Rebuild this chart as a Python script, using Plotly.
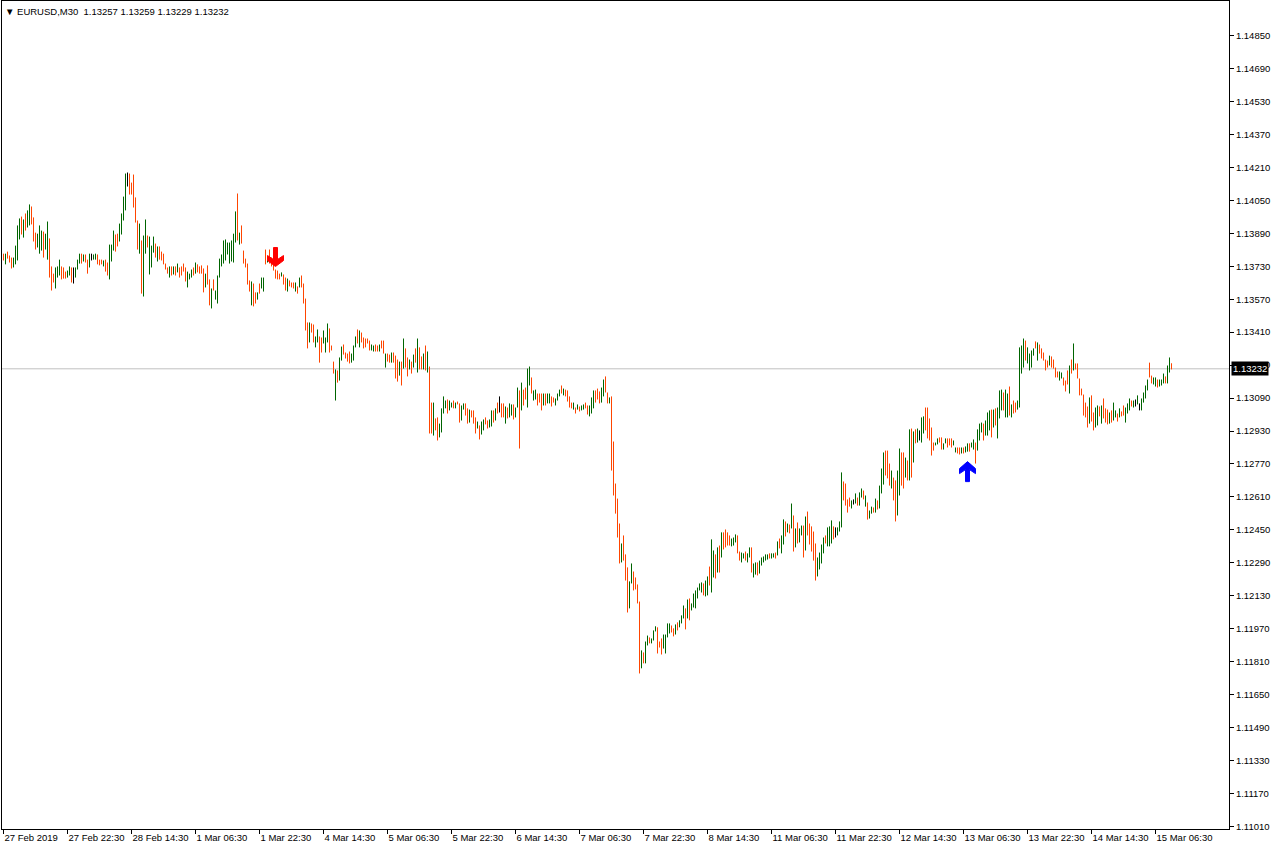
import plotly.graph_objects as go

# ---------------- data ----------------
symbol = "EURUSD"
timeframe = "M30"
last_ohlc = [1.13257, 1.13259, 1.13229, 1.13232]   # open, high, low, close of the last bar

# time-axis labels, one every 32 half-hour bars starting at bar 0
time_labels = ["27 Feb 2019", "27 Feb 22:30", "28 Feb 14:30", "1 Mar 06:30", "1 Mar 22:30",
               "4 Mar 14:30", "5 Mar 06:30", "5 Mar 22:30", "6 Mar 14:30", "7 Mar 06:30",
               "7 Mar 22:30", "8 Mar 14:30", "11 Mar 06:30", "11 Mar 22:30", "12 Mar 14:30",
               "13 Mar 06:30", "13 Mar 22:30", "14 Mar 14:30", "15 Mar 06:30"]
label_every = 32

price_ticks = [1.11010, 1.11170, 1.11330, 1.11490, 1.11650, 1.11810, 1.11970, 1.12130,
               1.12290, 1.12450, 1.12610, 1.12770, 1.12930, 1.13090, 1.13250, 1.13410,
               1.13570, 1.13730, 1.13890, 1.14050, 1.14210, 1.14370, 1.14530, 1.14690, 1.14850]

# bar highs / lows in points (1 point = 0.00001)
high_pts = [
    113791,113791,113801,113782,113772,113772,113830,113928,113962,113971,
    113957,113986,114001,114030,114020,113967,113893,113888,113928,113903,
    113898,113888,113947,113865,113729,113694,113724,113729,113762,113729,
    113724,113704,113709,113729,113724,113724,113724,113762,113791,113791,
    113787,113787,113762,113791,113791,113787,113791,113787,113762,113762,
    113758,113762,113748,113835,113835,113903,113884,113888,113937,113986,
    114068,114180,114185,114180,114136,114175,114064,113952,113937,113855,
    113879,113957,113879,113874,113830,113874,113840,113826,113826,113801,
    113791,113743,113724,113729,113729,113729,113729,113743,113724,113729,
    113743,113724,113704,113694,113714,113724,113748,113739,113729,113734,
    113719,113694,113734,113666,113622,113666,113612,113685,113767,113787,
    113855,113860,113845,113845,113855,113888,113996,114083,113893,113928,
    113806,113767,113743,113661,113656,113646,113603,113603,113646,113675,
    113675,113811,113772,113811,113772,113762,113714,113709,113694,113700,
    113690,113675,113670,113661,113651,113651,113651,113632,113675,113685,
    113646,113573,113457,113457,113452,113447,113389,113423,113389,113384,
    113418,113384,113452,113428,113345,113267,113229,113224,113287,113340,
    113350,113311,113306,113316,113306,113345,113389,113423,113418,113408,
    113384,113379,113379,113369,113350,113345,113350,113345,113350,113369,
    113369,113306,113306,113301,113311,113311,113296,113277,113267,113267,
    113379,113331,113287,113277,113267,113301,113331,113379,113336,113292,
    113306,113345,113316,113243,113068,113068,112991,112996,112966,113040,
    113098,113078,113083,113078,113068,113078,113068,113073,113064,113054,
    113064,113064,113040,113034,113030,113030,112996,112976,112957,112976,
    112986,112996,112981,112986,113030,113030,113040,113068,113098,113064,
    113064,113049,113044,113064,113059,113059,113044,113141,113127,113165,
    113131,113141,113233,113243,113190,113127,113131,113112,113112,113112,
    113112,113112,113112,113112,113098,113093,113088,113112,113131,113151,
    113136,113131,113127,113098,113068,113068,113044,113059,113049,113054,
    113059,113068,113054,113054,113093,113127,113127,113136,113122,113141,
    113180,113195,113117,113093,113098,112879,112675,112602,112481,112384,
    112423,112331,112268,112200,112287,112248,112219,112185,112102,111865,
    111855,111908,111937,111928,111923,111962,111982,111977,111908,111923,
    111942,111942,111996,111996,111986,111972,111991,112001,112011,112035,
    112083,112069,112112,112117,112093,112141,112156,112170,112190,112195,
    112190,112204,112224,112272,112404,112350,112331,112365,112374,112438,
    112438,112452,112438,112423,112408,112413,112428,112423,112345,112340,
    112336,112345,112336,112365,112365,112287,112292,112292,112301,112316,
    112321,112331,112331,112336,112336,112336,112340,112394,112408,112423,
    112501,112491,112481,112476,112578,112520,112457,112486,112457,112471,
    112471,112515,112539,112481,112467,112442,112384,112316,112340,112379,
    112413,112423,112462,112467,112496,112467,112462,112462,112491,112729,
    112685,112675,112598,112607,112593,112598,112627,112607,112632,112651,
    112641,112617,112583,112544,112563,112559,112602,112593,112665,112748,
    112826,112835,112835,112772,112738,112704,112690,112738,112845,112826,
    112826,112801,112787,112938,112942,112928,112938,112942,112933,112996,
    113001,113044,113044,112991,112947,112874,112874,112894,112899,112899,
    112870,112894,112894,112894,112894,112884,112850,112850,112850,112850,
    112850,112855,112870,112870,112874,112889,112874,112938,112966,112971,
    112966,112981,113020,113030,113034,113034,113040,113044,113127,113131,
    113117,113131,113112,113146,113059,113078,113068,113078,113336,113345,
    113379,113369,113336,113306,113321,113331,113365,113360,113350,113331,
    113311,113277,113272,113296,113292,113277,113238,113219,113219,113214,
    113190,113175,113224,113248,113277,113355,113258,113258,113185,113136,
    113107,113068,113049,113093,113103,113020,113044,113054,113049,113054,
    113088,113040,113034,113020,113030,113068,113030,113015,113040,113025,
    113054,113044,113064,113088,113078,113078,113083,113103,113064,113088,
    113117,113151,113180,113262,113199,113190,113190,113180,113180,113180,
    113209,113195,113248,113287,113259,
]
low_pts = [
    113758,113739,113767,113748,113719,113724,113739,113758,113860,113884,
    113869,113903,113918,113928,113933,113850,113811,113821,113791,113806,
    113772,113811,113762,113675,113612,113651,113622,113675,113685,113666,
    113670,113670,113675,113685,113651,113646,113675,113714,113743,113743,
    113753,113748,113694,113724,113758,113762,113762,113739,113734,113739,
    113729,113704,113685,113666,113753,113806,113801,113826,113850,113884,
    113952,114001,114117,114078,114078,114015,113942,113811,113791,113597,
    113583,113791,113821,113690,113724,113796,113772,113753,113762,113758,
    113739,113714,113694,113675,113685,113690,113685,113700,113675,113685,
    113704,113656,113627,113666,113675,113685,113694,113700,113694,113694,
    113603,113627,113641,113540,113525,113612,113568,113549,113675,113729,
    113743,113758,113787,113743,113753,113748,113845,113855,113835,113840,
    113743,113724,113641,113607,113540,113535,113549,113568,113597,113622,
    113607,113739,113748,113743,113729,113709,113670,113666,113666,113680,
    113641,113612,113607,113632,113627,113622,113607,113597,113627,113627,
    113549,113418,113331,113360,113408,113360,113336,113360,113262,113311,
    113355,113311,113360,113311,113321,113209,113078,113165,113175,113272,
    113301,113282,113267,113258,113262,113272,113336,113355,113336,113360,
    113331,113336,113355,113321,113321,113316,113316,113316,113316,113331,
    113306,113238,113267,113262,113262,113262,113185,113170,113199,113151,
    113233,113238,113195,113229,113209,113238,113262,113214,113229,113229,
    113229,113224,113214,112918,112918,112908,112933,112884,112899,112923,
    113015,113040,113015,113030,113044,113040,113040,113059,112971,112981,
    113034,113005,112966,112971,112996,112966,112918,112942,112889,112913,
    112933,112962,112942,112947,112952,112971,112981,113015,113020,112996,
    112996,112966,112991,112996,113005,112986,112996,113044,112845,113030,
    113054,113083,113044,113151,113112,113078,113083,113054,113068,113030,
    113054,113054,113064,113064,113049,113068,113054,113078,113098,113112,
    113103,113098,113073,113044,113040,113034,113015,113034,113025,113030,
    113034,113040,113010,113001,113015,113040,113068,113083,113064,113068,
    113098,113117,113064,113064,112738,112617,112529,112413,112287,112292,
    112301,112204,112049,112069,112190,112156,112161,112093,111753,111778,
    111802,111802,111889,111899,111899,111913,111957,111850,111879,111845,
    111874,111850,111928,111947,111952,111933,111942,111962,111977,111996,
    112020,111967,112020,112011,112059,112073,112069,112117,112156,112146,
    112132,112127,112132,112180,112146,112219,112214,112243,112243,112316,
    112355,112365,112374,112374,112370,112374,112389,112336,112301,112292,
    112311,112301,112292,112316,112243,112219,112233,112229,112238,112277,
    112292,112301,112306,112311,112311,112316,112311,112326,112360,112336,
    112379,112418,112438,112433,112457,112345,112365,112384,112389,112423,
    112316,112350,112423,112379,112345,112301,112204,112224,112258,112287,
    112336,112384,112370,112370,112384,112404,112413,112423,112442,112462,
    112593,112568,112534,112563,112554,112573,112578,112568,112568,112607,
    112598,112563,112500,112505,112529,112534,112534,112549,112554,112627,
    112670,112714,112700,112665,112651,112593,112491,112520,112617,112665,
    112651,112704,112690,112690,112704,112777,112870,112874,112884,112874,
    112918,112933,112894,112884,112811,112835,112860,112865,112874,112840,
    112840,112870,112850,112860,112850,112860,112826,112821,112816,112821,
    112821,112826,112830,112830,112850,112840,112772,112835,112884,112923,
    112884,112908,112908,112933,112899,112947,112957,112894,112991,113030,
    113030,112996,112996,113005,112996,113015,113020,113034,113044,113209,
    113238,113272,113258,113224,113238,113296,113331,113272,113306,113282,
    113272,113224,113238,113248,113238,113233,113190,113190,113175,113185,
    113151,113122,113156,113112,113209,113224,113229,113185,113103,113103,
    113005,112996,112947,112966,112976,112933,112947,112957,113001,112966,
    112991,112971,112962,112966,112971,112981,112996,112976,112996,113001,
    113005,112971,113015,113030,113049,113044,113049,113059,113030,113030,
    113068,113088,113127,113190,113161,113156,113146,113141,113146,113151,
    113161,113161,113161,113214,113229,
]
# bar direction: 1 = up (green), -1 = down (red), 0 = unchanged (black)
direction = [
    -1,1,-1,-1,-1,1,1,1,1,-1,  1,-1,1,1,-1,-1,-1,1,1,1,
    -1,1,1,-1,-1,-1,1,1,1,-1,  -1,-1,1,1,-1,0,1,1,1,-1,
    1,-1,-1,1,0,1,1,-1,-1,-1,  1,-1,-1,1,1,1,-1,-1,1,1,
    1,1,0,-1,-1,-1,-1,-1,1,-1,  1,1,-1,1,1,1,-1,1,-1,-1,
    -1,-1,-1,1,-1,1,-1,1,-1,-1,  -1,-1,1,1,1,-1,1,-1,-1,-1,
    -1,1,-1,-1,1,-1,1,1,1,1,  1,1,1,1,1,1,1,-1,1,-1,
    -1,-1,-1,-1,1,-1,-1,1,-1,1,  1,-1,1,-1,-1,-1,-1,-1,-1,1,
    -1,-1,1,-1,-1,-1,1,-1,1,-1,  -1,-1,-1,1,-1,-1,1,1,-1,-1,
    1,1,1,-1,-1,-1,1,-1,1,1,  -1,-1,-1,-1,1,1,1,-1,1,-1,
    -1,-1,-1,-1,1,1,-1,-1,1,-1,  -1,1,-1,-1,1,-1,-1,-1,1,-1,
    1,-1,-1,1,-1,1,-1,1,-1,-1,  1,-1,1,-1,-1,1,-1,-1,1,1,
    1,1,-1,1,1,-1,1,-1,-1,1,  1,-1,-1,1,-1,-1,-1,1,-1,1,
    1,-1,-1,1,1,-1,1,-1,0,-1,  -1,1,-1,1,1,-1,1,1,-1,1,
    -1,-1,1,1,-1,1,1,-1,-1,-1,  1,-1,1,1,-1,-1,1,1,1,-1,
    1,-1,-1,-1,-1,1,-1,1,-1,1,  1,-1,-1,1,1,1,-1,-1,-1,1,
    1,-1,-1,1,-1,-1,-1,-1,-1,1,  -1,-1,-1,1,1,-1,-1,-1,-1,1,
    -1,1,1,-1,1,1,1,-1,-1,-1,  1,1,1,1,-1,-1,1,-1,1,1,
    1,-1,1,-1,1,1,1,1,1,1,  -1,1,1,-1,1,1,-1,1,-1,1,
    -1,-1,-1,-1,1,1,1,-1,-1,1,  1,-1,1,1,-1,1,1,-1,1,1,
    1,1,1,-1,1,1,-1,1,-1,1,  1,-1,1,-1,1,-1,1,-1,1,1,
    -1,1,-1,-1,-1,-1,-1,1,1,1,  1,-1,1,1,1,-1,0,1,1,1,
    -1,-1,-1,-1,1,0,1,-1,1,1,  -1,1,-1,1,1,-1,1,-1,1,1,
    1,-1,-1,-1,1,-1,-1,1,1,-1,  -1,1,-1,1,-1,1,-1,1,0,1,
    1,-1,-1,-1,-1,-1,1,1,-1,-1,  1,1,-1,-1,-1,1,1,-1,-1,1,
    -1,1,1,-1,1,1,-1,1,1,1,  -1,1,1,1,-1,1,-1,1,1,1,
    -1,1,1,-1,1,-1,-1,1,1,1,  1,-1,1,1,1,1,-1,1,-1,-1,
    -1,-1,-1,1,-1,-1,-1,-1,1,1,  -1,-1,-1,1,-1,1,-1,-1,-1,-1,
    -1,-1,-1,1,-1,-1,1,1,-1,1,  -1,-1,-1,1,-1,1,1,-1,1,-1,
    -1,1,1,1,-1,1,0,1,0,1,  1,1,1,-1,-1,1,1,-1,1,1,
    1,-1,1,1,-1,
]
sell_signal_bar = 136   # red arrow (above the bar)
buy_signal_bar = 482    # blue arrow (below the bar)

# ---------------- figure ----------------
n = len(high_pts)
high = [v / 1e5 for v in high_pts]
low = [v / 1e5 for v in low_pts]

UP_COL, DOWN_COL, FLAT_COL = "#006400", "#FF4500", "#000000"


def segments(sel):
    xs, ys = [], []
    for i in range(n):
        if direction[i] == sel:
            xs += [i, i, None]
            ys += [low[i], high[i], None]
    return xs, ys


fig = go.Figure()
for sel, col in ((1, UP_COL), (-1, DOWN_COL), (0, FLAT_COL)):
    xs, ys = segments(sel)
    fig.add_trace(go.Scatter(x=xs, y=ys, mode="lines", line=dict(color=col, width=1),
                             hoverinfo="skip", showlegend=False))

FONT = "Liberation Sans, Arial, sans-serif"

# current bid line
fig.add_shape(type="line", xref="paper", x0=0, x1=1, yref="y", y0=last_ohlc[3], y1=last_ohlc[3],
              line=dict(color="#C0C0C0", width=1), layer="below")

# signal arrows, anchored on the signal bars (pixel-sized glyphs)
sell_path = "M -2,22 L 2,22 L 2,10 L 8,14 L 8,9 L 0,3 L -8,9 L -8,14 L -2,10 Z"
buy_path = "M -2,-30 L 2,-30 L 2,-18 L 8,-22 L 8,-17 L 0,-10 L -8,-17 L -8,-22 L -2,-18 Z"
fig.add_shape(type="path", xref="x", yref="y", xsizemode="pixel", ysizemode="pixel",
              xanchor=sell_signal_bar, yanchor=high[sell_signal_bar], path=sell_path,
              fillcolor="#FF0000", line=dict(color="#FF0000", width=1))
fig.add_shape(type="path", xref="x", yref="y", xsizemode="pixel", ysizemode="pixel",
              xanchor=buy_signal_bar, yanchor=low[buy_signal_bar], path=buy_path,
              fillcolor="#0000FF", line=dict(color="#0000FF", width=1))

# header
header = "\u25BC {},{}\u00a0\u00a0{}".format(symbol, timeframe, " ".join("%.5f" % v for v in last_ohlc))
fig.add_annotation(xref="paper", yref="paper", x=0, y=1, xanchor="left", yanchor="top",
                   xshift=1, yshift=-3, text=header, showarrow=False,
                   font=dict(family=FONT, size=9.5, color="#000000"))
# bid label on price scale
fig.add_annotation(xref="paper", yref="y", x=1, y=last_ohlc[3], xanchor="left", yanchor="middle",
                   xshift=2, text="%.5f" % last_ohlc[3], showarrow=False, bgcolor="#000000",
                   borderpad=1, font=dict(family=FONT, size=9.5, color="#FFFFFF"))

# plot area: 2 px per bar, price scale fitted to the reference
fig.update_layout(
    width=1276, height=850,
    margin=dict(l=2, r=47, t=1, b=21, pad=0, autoexpand=False),
    paper_bgcolor="#FFFFFF", plot_bgcolor="#FFFFFF",
    showlegend=False,
    xaxis=dict(range=[-0.75, 612.75], tickmode="array",
               tickvals=[k * label_every for k in range(len(time_labels))], ticktext=time_labels,
               ticks="outside", ticklen=4, tickcolor="#000000", tickwidth=1,
               ticklabelposition="outside right", tickangle=0, automargin=False,
               showline=True, linecolor="#000000", linewidth=1, mirror=True,
               showgrid=False, zeroline=False,
               tickfont=dict(family=FONT, size=9.5, color="#000000")),
    yaxis=dict(range=[1.109979, 1.150176], side="right", tickmode="array",
               tickvals=price_ticks, ticktext=["%.5f" % v for v in price_ticks],
               ticks="outside", ticklen=4, tickcolor="#000000", tickwidth=1,
               automargin=False,
               showline=True, linecolor="#000000", linewidth=1, mirror=True,
               showgrid=False, zeroline=False,
               tickfont=dict(family=FONT, size=9.5, color="#000000")),
)

fig.write_html("out.html", config={"displayModeBar": False},
               post_script="document.body.style.margin='0';document.body.style.overflow='hidden';")
